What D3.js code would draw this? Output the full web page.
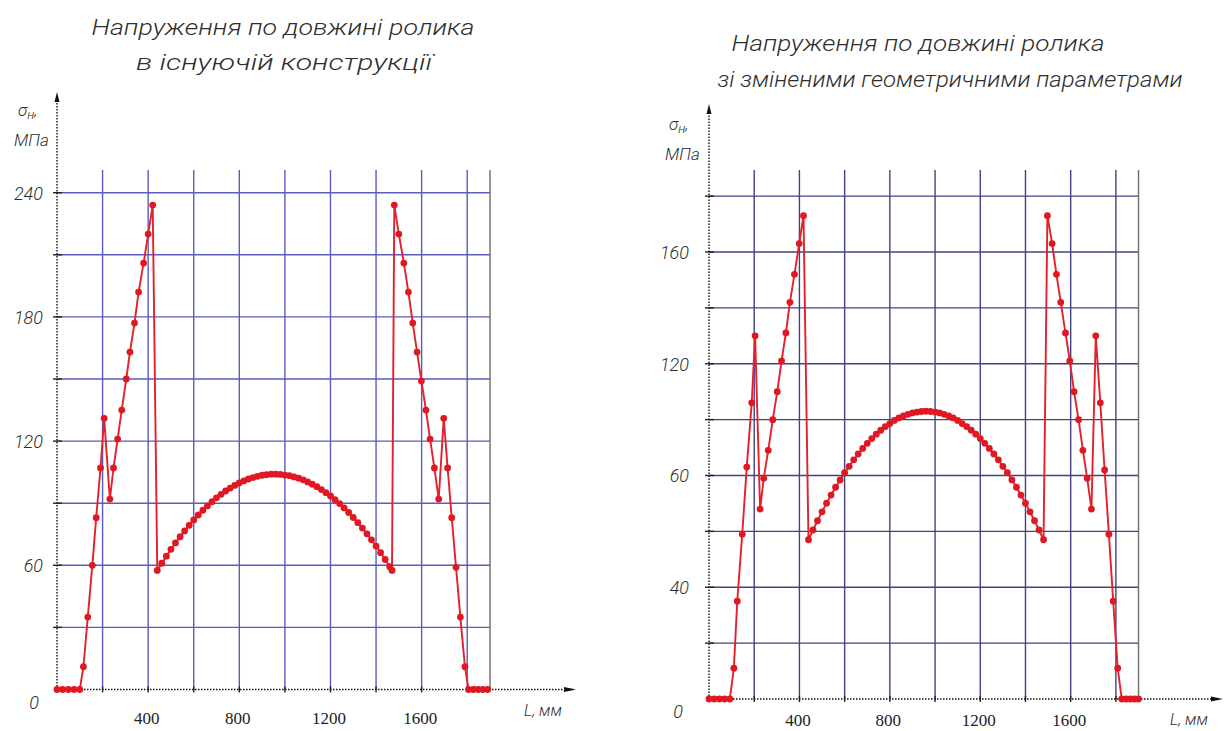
<!DOCTYPE html>
<html>
<head>
<meta charset="utf-8">
<title>Напруження по довжині ролика</title>
<script src="https://cdn.jsdelivr.net/npm/d3@7"></script>
<style>
  body { margin: 0; background: #fff; }
  .gost { font-family: "Roboto", "DejaVu Sans", sans-serif; font-style: italic; font-weight: 300; fill: #2e2e2e; }
  .serif { font-family: "Liberation Serif", "Times New Roman", serif; fill: #222; }
</style>
</head>
<body>
<div id="chart"></div>
<script>
// ---- values ----
var xTicks = [400, 800, 1200, 1600];
var xGrid = [200, 400, 600, 800, 1000, 1200, 1400, 1600, 1800];

var yTicksLeft = [0, 60, 120, 180, 240];
var yLabelsLeft = ["0", "60", "120", "180", "240"];
var hGridLeft = [30, 60, 90, 120, 150, 180, 210, 240];

var yTicksRight = [0, 40, 80, 120, 160];
var yLabelsRight = ["0", "40", "60", "120", "160"];   // as printed on the original
var hGridRight = [20, 40, 60, 80, 100, 120, 140, 160, 180];

// existing design (left chart)
var headPosLeft = [0, 25, 50, 75, 100, 116, 135, 155, 172, 191, 207, 232, 248, 266, 284, 304, 320, 340, 358, 380, 400, 420];
var headValLeft = [0, 0, 0, 0, 0, 11, 35, 60, 83, 107, 131, 92, 107, 121, 135, 150, 163, 177, 192, 206, 220, 234];
var arcPosLeft = [440, 460, 480, 500, 520, 540, 560, 580, 600, 620, 640, 660, 680, 700, 720, 740, 760, 780, 800, 820,
  840, 860, 880, 900, 920, 940, 960, 980, 1000, 1020, 1040, 1060, 1080, 1100, 1120, 1140, 1160, 1180, 1200, 1220,
  1240, 1260, 1280, 1300, 1320, 1340, 1360, 1380, 1400, 1420, 1440, 1460, 1470];
var arcValLeft = [57.5, 61.0, 64.4, 67.7, 70.8, 73.8, 76.6, 79.3, 81.9, 84.3, 86.6, 88.7, 90.7, 92.6, 94.3, 95.9, 97.3, 98.6, 99.8, 100.8,
  101.7, 102.4, 103.0, 103.5, 103.8, 104.0, 104.0, 103.9, 103.6, 103.3, 102.7, 102.1, 101.3, 100.3, 99.2, 98.0, 96.6, 95.1, 93.5, 91.7,
  89.8, 87.7, 85.5, 83.1, 80.6, 78.0, 75.2, 72.3, 69.3, 66.1, 62.8, 59.3, 57.5];
var tailPosLeft = [1480, 1500, 1522, 1542, 1561, 1580, 1599, 1619, 1637, 1656, 1675, 1697, 1714, 1732, 1751, 1770, 1790, 1806, 1827, 1848, 1869, 1890];
var tailValLeft = [234, 220, 206, 192, 177, 163, 149, 135, 121, 107, 92, 131, 107, 83, 59, 35, 11, 0, 0, 0, 0, 0];

// modified geometry (right chart)
var headPosRight = [0, 23, 46, 69, 92, 110, 125, 147, 167, 189, 204, 226, 242, 262, 282, 302, 321, 340, 358, 378, 399, 418];
var headValRight = [0, 0, 0, 0, 0, 11, 35, 59, 83, 106, 130, 68, 79, 89, 100, 110, 121, 131, 142, 152, 163, 173];
var arcPosRight = [440, 460, 480, 500, 520, 540, 560, 580, 600, 620, 640, 660, 680, 700, 720, 740, 760, 780, 800, 820,
  840, 860, 880, 900, 920, 940, 960, 980, 1000, 1020, 1040, 1060, 1080, 1100, 1120, 1140, 1160, 1180, 1200, 1220,
  1240, 1260, 1280, 1300, 1320, 1340, 1360, 1380, 1400, 1420, 1440, 1460, 1480];
var arcValRight = [57.0, 60.5, 63.8, 67.0, 70.1, 73.0, 75.8, 78.4, 81.0, 83.3, 85.6, 87.7, 89.7, 91.5, 93.2, 94.8, 96.2, 97.5, 98.6, 99.7,
  100.6, 101.3, 101.9, 102.4, 102.7, 102.9, 103.0, 102.9, 102.7, 102.4, 101.9, 101.3, 100.6, 99.7, 98.6, 97.5, 96.2, 94.8, 93.2, 91.5,
  89.7, 87.7, 85.6, 83.3, 81.0, 78.4, 75.8, 73.0, 70.1, 67.0, 63.8, 60.5, 57.0];
var tailPosRight = [1497, 1518, 1537, 1556, 1577, 1596, 1615, 1635, 1654, 1673, 1692, 1711, 1731, 1750, 1769, 1788, 1808, 1826, 1845, 1864, 1882, 1900];
var tailValRight = [173, 163, 152, 142, 131, 121, 110, 100, 89, 79, 68, 130, 106, 82, 59, 35, 11, 0, 0, 0, 0, 0];

var titleLeft = ["Напруження по довжині ролика", "в існуючій конструкції"];
var titleRight = ["Напруження по довжині ролика", "зі зміненими геометричними параметрами"];

// ---- drawing ----
var svg = d3.select("#chart").append("svg")
  .attr("width", 1231)
  .attr("height", 731);

svg.append("rect").attr("width", 1231).attr("height", 731).attr("fill", "#fff");

function zip(pos, val) {
  return pos.map(function (p, i) { return { l: p, v: val[i] }; });
}

function drawChart(c) {
  var x = d3.scaleLinear().domain([0, 1900]).range([c.left, c.right]);
  var y = d3.scaleLinear().domain([0, c.yRef]).range([c.bottom, c.yRefPx]);
  var g = svg.append("g");

  // grid
  g.selectAll(".hgrid").data(c.hGrid).enter().append("line")
    .attr("x1", x(0)).attr("x2", x(1900))
    .attr("y1", function (d) { return y(d); })
    .attr("y2", function (d) { return y(d); })
    .attr("stroke", c.gridColor).attr("stroke-width", 1.4);
  g.selectAll(".vgrid").data(xGrid).enter().append("line")
    .attr("x1", function (d) { return x(d); })
    .attr("x2", function (d) { return x(d); })
    .attr("y1", c.gridTop).attr("y2", y(0))
    .attr("stroke", c.gridColor).attr("stroke-width", 1.4);
  g.append("line")
    .attr("x1", x(1900)).attr("x2", x(1900))
    .attr("y1", c.gridTop).attr("y2", y(0))
    .attr("stroke", "#6d6d6d").attr("stroke-width", 1.4);

  // dotted axes with arrows
  g.append("line")
    .attr("x1", x(0)).attr("x2", x(0)).attr("y1", y(0)).attr("y2", c.axisTop + 4)
    .attr("stroke", "#111").attr("stroke-width", 1.4).attr("stroke-dasharray", "1.5,1.5");
  g.append("path")
    .attr("d", "M" + (x(0) - 2.5) + "," + (c.axisTop + 10) + "L" + x(0) + "," + c.axisTop + "L" + (x(0) + 2.5) + "," + (c.axisTop + 10) + "Z")
    .attr("fill", "#111");
  g.append("line")
    .attr("x1", x(0)).attr("x2", c.axisEnd - 4).attr("y1", y(0)).attr("y2", y(0))
    .attr("stroke", "#111").attr("stroke-width", 1.4).attr("stroke-dasharray", "1.5,1.5");
  g.append("path")
    .attr("d", "M" + (c.axisEnd - 12) + "," + (y(0) - 2.5) + "L" + c.axisEnd + "," + y(0) + "L" + (c.axisEnd - 12) + "," + (y(0) + 2.5) + "Z")
    .attr("fill", "#111");

  // small ticks on the axes
  g.selectAll(".ytk").data(c.hGrid).enter().append("line")
    .attr("x1", x(0) - 4).attr("x2", x(0) + 5)
    .attr("y1", function (d) { return y(d); })
    .attr("y2", function (d) { return y(d); })
    .attr("stroke", "#222").attr("stroke-width", 1.4);
  g.selectAll(".xtk").data(xGrid).enter().append("line")
    .attr("x1", function (d) { return x(d); })
    .attr("x2", function (d) { return x(d); })
    .attr("y1", y(0) - 3).attr("y2", y(0) + 3)
    .attr("stroke", "#222").attr("stroke-width", 1.4);

  // x tick labels
  var xAxis = g.append("g")
    .attr("transform", "translate(0," + (y(0) + c.xLabelGap) + ")")
    .call(d3.axisBottom(x).tickValues(xTicks).tickSize(0).tickFormat(d3.format("d")));
  xAxis.select(".domain").remove();
  xAxis.selectAll("text")
    .attr("class", "serif")
    .attr("font-size", 17)
    .attr("dx", -2);

  // y tick labels
  var yAxis = g.append("g")
    .attr("transform", "translate(" + (x(0) - c.yLabelGap) + ",0)")
    .call(d3.axisLeft(y).tickValues(c.yTicks).tickSize(0)
      .tickFormat(function (d, i) { return c.yLabels[i]; }));
  yAxis.select(".domain").remove();
  yAxis.selectAll("text")
    .attr("class", "gost")
    .attr("font-size", 18)
    .attr("dy", function (d) { return d === 0 ? "1.05em" : "0.36em"; })
    .attr("dx", function (d) { return d === 0 ? c.zeroDx : 0; });

  // axis names
  var yName = g.append("text").attr("class", "gost").attr("font-size", 17)
    .attr("x", c.yNameX).attr("y", c.yNameY);
  yName.append("tspan").text("σ");
  yName.append("tspan").attr("font-size", 13).attr("dy", 3).text("н");
  yName.append("tspan").attr("dy", -3).text(",");
  g.append("text").attr("class", "gost").attr("font-size", 17)
    .attr("x", c.yNameX - 4).attr("y", c.yNameY + 30).text("МПа");
  g.append("text").attr("class", "gost").attr("font-size", 16)
    .attr("x", c.xNameX).attr("y", c.xNameY).text("L, мм");

  // title
  g.selectAll(".title").data(c.title).enter().append("text")
    .attr("class", "gost")
    .attr("font-size", 22)
    .attr("text-anchor", "middle")
    .attr("x", function (d, i) { return c.titleX[i]; })
    .attr("y", function (d, i) { return c.titleY[i]; })
    .attr("textLength", function (d, i) { return c.titleW[i]; })
    .attr("lengthAdjust", "spacingAndGlyphs")
    .text(function (d) { return d; });

  // series
  var pts = zip(c.headPos, c.headVal).concat(zip(c.arcPos, c.arcVal), zip(c.tailPos, c.tailVal));
  var line = d3.line()
    .x(function (d) { return x(d.l); })
    .y(function (d) { return y(d.v); });
  g.append("path")
    .datum(pts)
    .attr("d", line)
    .attr("fill", "none")
    .attr("stroke", "#e4202a")
    .attr("stroke-width", 1.9);
  g.selectAll(".pt").data(pts).enter().append("circle")
    .attr("cx", function (d) { return x(d.l); })
    .attr("cy", function (d) { return y(d.v); })
    .attr("r", 3.4)
    .attr("fill", "#e01822");
}

drawChart({
  left: 57, right: 490, bottom: 689.5, yRef: 240, yRefPx: 192.7,
  gridTop: 170, axisTop: 92, axisEnd: 576,
  hGrid: hGridLeft, yTicks: yTicksLeft, yLabels: yLabelsLeft,
  gridColor: "#5a5ac4",
  xLabelGap: 19, yLabelGap: 11, zeroDx: -4,
  yNameX: 18, yNameY: 116, xNameX: 524, xNameY: 716,
  title: titleLeft, titleX: [283, 284], titleY: [35, 70], titleW: [383, 296],
  headPos: headPosLeft, headVal: headValLeft,
  arcPos: arcPosLeft, arcVal: arcValLeft,
  tailPos: tailPosLeft, tailVal: tailValLeft
});

drawChart({
  left: 709, right: 1138.5, bottom: 699, yRef: 160, yRefPx: 252,
  gridTop: 170, axisTop: 104, axisEnd: 1223,
  hGrid: hGridRight, yTicks: yTicksRight, yLabels: yLabelsRight,
  gridColor: "#414186",
  xLabelGap: 12, yLabelGap: 17, zeroDx: -6,
  yNameX: 669, yNameY: 130, xNameX: 1170, xNameY: 725,
  title: titleRight, titleX: [918, 950], titleY: [51, 87], titleW: [373, 465],
  headPos: headPosRight, headVal: headValRight,
  arcPos: arcPosRight, arcVal: arcValRight,
  tailPos: tailPosRight, tailVal: tailValRight
});
</script>
</body>
</html>
